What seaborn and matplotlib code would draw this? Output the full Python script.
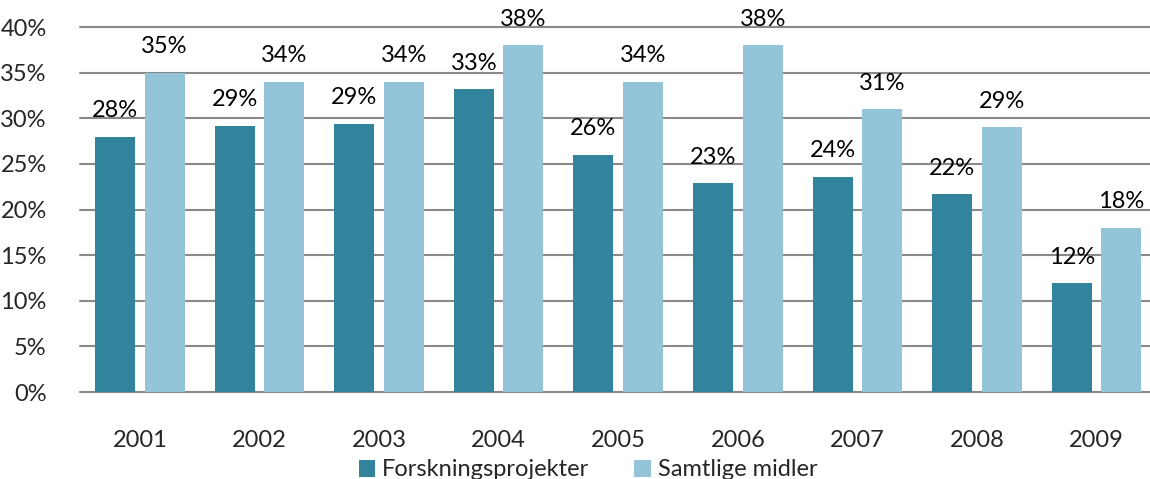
import pandas as pd
import seaborn as sns
import matplotlib.pyplot as plt

# values (percent)
years = ['2001', '2002', '2003', '2004', '2005', '2006', '2007', '2008', '2009']
forskning = [28.0, 29.2, 29.4, 33.2, 26.0, 22.9, 23.6, 21.7, 11.9]
samtlige = [35.0, 34.0, 34.0, 38.0, 34.0, 38.0, 31.0, 29.0, 18.0]
series_names = ['Forskningsprojekter', 'Samtlige midler']
yticks = [0, 5, 10, 15, 20, 25, 30, 35, 40]

palette = {'Forskningsprojekter': '#31849B', 'Samtlige midler': '#93C4D7'}

df = pd.DataFrame({'year': years * 2,
                   'value': forskning + samtlige,
                   'serie': [series_names[0]] * len(years) + [series_names[1]] * len(years)})

sns.set_theme(style='white')
plt.rcParams['font.family'] = ['Lato', 'DejaVu Sans']

fig = plt.figure(figsize=(11.5, 4.79), dpi=100)
ax = fig.add_axes([0.0696, 0.1816, 0.9304, 0.762])

sns.barplot(data=df, x='year', y='value', hue='serie', palette=palette,
            width=0.83, gap=0.195, saturation=1, linewidth=0, ax=ax)

for cont in ax.containers:
    ax.bar_label(cont, labels=[f'{b.get_height():.0f}%' for b in cont],
                 padding=11, fontsize=17, color='black')

ax.set_ylim(0, 40)
ax.set_xlim(-0.5, 8.446)
ax.set_yticks(yticks)
ax.set_yticklabels([f'{t}%' for t in yticks])
ax.yaxis.grid(True, color='#898989', linewidth=1.5)
for gl in ax.get_ygridlines():
    gl.set_clip_on(False)
ax.set_axisbelow(True)
for s in ax.spines.values():
    s.set_visible(False)
ax.tick_params(axis='y', labelsize=17, pad=24, length=0)
ax.tick_params(axis='x', labelsize=17, pad=27, length=0)
ax.set_xlabel('')
ax.set_ylabel('')

handles, labels = ax.get_legend_handles_labels()
ax.get_legend().remove()
fig.legend(handles, labels, loc='center', bbox_to_anchor=(588 / 1150, 1 - 470 / 479),
           ncol=2, frameon=False, fontsize=17, handlelength=0.7, handleheight=0.7,
           handletextpad=0.3, columnspacing=1.9)

fig.savefig('out.png', dpi=100)
